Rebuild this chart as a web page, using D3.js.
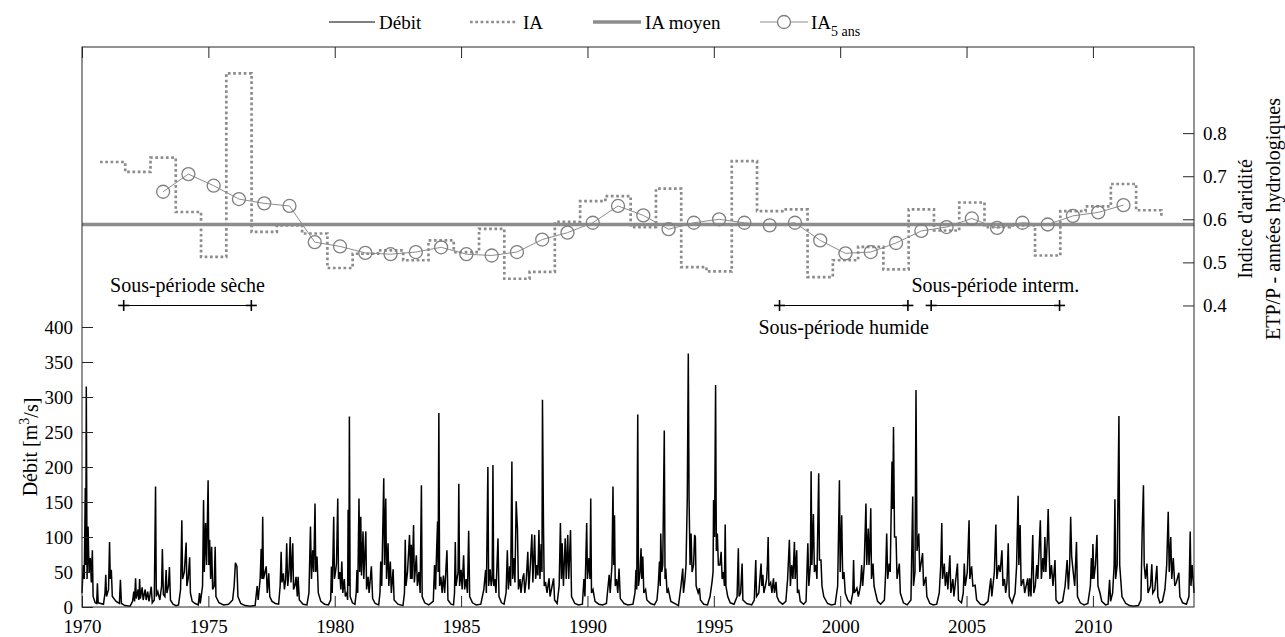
<!DOCTYPE html>
<html><head><meta charset="utf-8">
<script src="https://cdn.jsdelivr.net/npm/d3@7"></script>
<style>
body{margin:0;background:#fff}
svg{display:block}
text{font-family:"Liberation Serif","Times New Roman",serif;fill:#000}
</style>
</head><body>
<svg id="chart" width="1285" height="637"></svg>
<script>
// ---------------- DATA ----------------
const hydroYears = d3.range(1970, 2013); // hydrological years 1970-71 ... 2012-13
const iaValues = [0.733,0.710,0.743,0.617,0.513,0.939,0.571,0.586,0.567,0.487,0.520,0.528,0.505,0.551,0.524,0.578,0.462,0.478,0.594,0.642,0.654,0.582,0.671,0.489,0.479,0.735,0.619,0.623,0.466,0.505,0.536,0.484,0.623,0.574,0.639,0.582,0.586,0.516,0.619,0.630,0.682,0.621,0.603];
const iaMean = 0.588;
const ia5Years = d3.range(1972, 2011);
const ia5Values = [0.664,0.705,0.678,0.647,0.637,0.631,0.547,0.537,0.522,0.519,0.524,0.535,0.519,0.516,0.524,0.553,0.569,0.592,0.631,0.609,0.577,0.592,0.600,0.592,0.586,0.592,0.551,0.521,0.524,0.545,0.573,0.582,0.602,0.580,0.592,0.588,0.608,0.616,0.633];
const xTicks = [1970,1975,1980,1985,1990,1995,2000,2005,2010];
const debitTicks = [0,50,100,150,200,250,300,350,400];
const iaTicks = [0.4,0.5,0.6,0.7,0.8];
const subPeriodLabels = ["Sous-période sèche","Sous-période humide","Sous-période interm."];
const subPeriodStart = [1971.65,1997.6,2003.6];
const subPeriodEnd = [1976.7,2002.68,2008.68];
const legendLabels = ["Débit","IA","IA moyen","IA"];

// daily discharge (m3/s), digitised vertices [decimal year, value]
const debit1970s = [[1970.00,20],[1970.05,60],[1970.09,40],[1970.13,170],[1970.15,60],[1970.17,315],[1970.2,40],[1970.24,115],[1970.28,50],[1970.33,70],[1970.37,35],[1970.41,81],[1970.44,15],[1970.52,6],[1970.58,5],[1970.61,34],[1970.64,6],[1970.85,4],[1970.91,20],[1970.94,46],[1970.97,15],[1971.05,25],[1971.09,93],[1971.12,40],[1971.16,53],[1971.2,15],[1971.35,8],[1971.48,5],[1971.52,39],[1971.56,5],[1971.7,2],[1971.9,1],[1972.0,8],[1972.05,22],[1972.08,8],[1972.12,41],[1972.15,12],[1972.22,25],[1972.25,10],[1972.28,40],[1972.31,12],[1972.38,28],[1972.42,10],[1972.5,25],[1972.54,10],[1972.6,22],[1972.65,8],[1972.74,29],[1972.78,6],[1972.86,10],[1972.91,172],[1972.94,15],[1973.0,22],[1973.08,10],[1973.15,30],[1973.18,83],[1973.22,18],[1973.28,15],[1973.33,53],[1973.36,20],[1973.42,30],[1973.46,57],[1973.5,10],[1973.6,4],[1973.72,2],[1973.82,3],[1973.9,25],[1973.95,124],[1973.98,40],[1974.05,50],[1974.12,92],[1974.15,30],[1974.2,40],[1974.26,71],[1974.29,20],[1974.36,8],[1974.48,5],[1974.6,3],[1974.65,20],[1974.68,5],[1974.77,30],[1974.81,153],[1974.84,50],[1974.89,120],[1974.93,60],[1974.99,181],[1975.02,60],[1975.05,96],[1975.09,40],[1975.13,86],[1975.17,25],[1975.23,30],[1975.27,86],[1975.3,15],[1975.42,6],[1975.6,3],[1975.8,4],[1975.96,10],[1976.02,30],[1976.07,63],[1976.13,58],[1976.17,15],[1976.28,5],[1976.45,2],[1976.65,1],[1976.85,2],[1976.93,30],[1976.97,10],[1977.05,40],[1977.09,83],[1977.12,40],[1977.15,129],[1977.18,40],[1977.29,58],[1977.33,20],[1977.39,48],[1977.43,15],[1977.52,8],[1977.65,5],[1977.78,4],[1977.84,30],[1977.88,79],[1977.91,35],[1977.97,48],[1978.01,25],[1978.06,40],[1978.1,91],[1978.14,30],[1978.19,50],[1978.24,100],[1978.27,35],[1978.34,91],[1978.37,25],[1978.42,30],[1978.47,43],[1978.52,15],[1978.55,43],[1978.6,10],[1978.75,4],[1978.9,3],[1978.98,20],[1979.04,115],[1979.08,40],[1979.13,81],[1979.17,50],[1979.22,148],[1979.25,50],[1979.3,72],[1979.35,20],[1979.45,8],[1979.6,4],[1979.75,3],[1979.84,10],[1979.87,58],[1979.9,20],[1979.96,129],[1979.99,40]];
const debit1980s = [[1980.03,50],[1980.07,62],[1980.12,155],[1980.15,40],[1980.2,50],[1980.24,25],[1980.28,65],[1980.32,20],[1980.38,40],[1980.42,15],[1980.48,20],[1980.51,10],[1980.53,139],[1980.56,30],[1980.58,272],[1980.61,15],[1980.7,6],[1980.8,4],[1980.85,20],[1980.88,53],[1980.91,20],[1980.96,155],[1980.99,50],[1981.03,129],[1981.06,45],[1981.12,108],[1981.15,40],[1981.23,108],[1981.26,25],[1981.32,43],[1981.36,20],[1981.45,58],[1981.5,12],[1981.6,5],[1981.74,3],[1981.79,20],[1981.82,65],[1981.86,30],[1981.94,184],[1981.97,60],[1982.02,155],[1982.05,40],[1982.11,91],[1982.14,30],[1982.2,65],[1982.24,20],[1982.31,54],[1982.35,10],[1982.5,4],[1982.7,2],[1982.76,20],[1982.79,96],[1982.82,30],[1982.88,50],[1982.96,103],[1983.0,40],[1983.03,89],[1983.06,40],[1983.12,117],[1983.15,35],[1983.23,74],[1983.27,30],[1983.33,50],[1983.38,20],[1983.43,174],[1983.46,15],[1983.56,6],[1983.72,3],[1983.9,8],[1983.95,60],[1983.99,25],[1984.03,79],[1984.07,122],[1984.09,50],[1984.12,277],[1984.15,30],[1984.2,43],[1984.25,20],[1984.3,45],[1984.35,20],[1984.44,81],[1984.48,10],[1984.6,4],[1984.7,3],[1984.74,20],[1984.77,93],[1984.8,30],[1984.88,50],[1984.91,176],[1984.94,30],[1985.0,53],[1985.04,25],[1985.1,74],[1985.14,25],[1985.2,40],[1985.25,20],[1985.3,109],[1985.34,15],[1985.45,6],[1985.6,3],[1985.78,4],[1985.9,25],[1985.97,53],[1986.0,20],[1986.06,200],[1986.09,30],[1986.15,54],[1986.19,30],[1986.23,40],[1986.26,203],[1986.29,30],[1986.34,40],[1986.38,20],[1986.46,98],[1986.5,15],[1986.6,6],[1986.7,4],[1986.78,20],[1986.83,81],[1986.87,25],[1986.92,58],[1986.96,30],[1987.01,208],[1987.04,40],[1987.09,70],[1987.13,35],[1987.18,151],[1987.23,111],[1987.27,25],[1987.33,40],[1987.37,20],[1987.43,40],[1987.48,48],[1987.52,20],[1987.58,40],[1987.64,79],[1987.68,25],[1987.74,60],[1987.8,104],[1987.84,35],[1987.91,103],[1987.95,40],[1988.0,60],[1988.04,45],[1988.08,110],[1988.12,40],[1988.17,90],[1988.2,50],[1988.22,296],[1988.26,117],[1988.29,30],[1988.34,36],[1988.4,20],[1988.48,41],[1988.52,15],[1988.66,41],[1988.7,10],[1988.8,5],[1988.88,30],[1988.93,120],[1988.97,40],[1989.0,91],[1989.05,30],[1989.12,98],[1989.16,40],[1989.22,103],[1989.26,40],[1989.33,110],[1989.37,15],[1989.5,5],[1989.65,3],[1989.8,4],[1989.86,40],[1989.9,15],[1989.97,120]];
const debit1990s = [[1990.0,40],[1990.06,70],[1990.1,40],[1990.13,155],[1990.16,20],[1990.22,25],[1990.3,8],[1990.45,4],[1990.6,3],[1990.75,5],[1990.86,46],[1990.9,20],[1990.97,60],[1991.01,172],[1991.04,60],[1991.07,131],[1991.1,30],[1991.15,40],[1991.2,20],[1991.25,55],[1991.3,12],[1991.45,5],[1991.6,3],[1991.8,4],[1991.88,20],[1991.92,53],[1991.95,25],[1991.99,275],[1992.02,30],[1992.08,50],[1992.12,84],[1992.15,40],[1992.19,72],[1992.23,20],[1992.3,25],[1992.35,10],[1992.5,5],[1992.65,3],[1992.75,10],[1992.8,30],[1992.85,65],[1992.88,30],[1992.9,105],[1992.94,50],[1992.98,60],[1993.04,252],[1993.07,40],[1993.1,55],[1993.15,20],[1993.2,25],[1993.3,8],[1993.5,4],[1993.6,2],[1993.7,30],[1993.77,55],[1993.8,20],[1993.86,40],[1993.9,60],[1993.95,155],[1993.99,362],[1994.02,155],[1994.06,60],[1994.1,105],[1994.14,50],[1994.2,60],[1994.24,103],[1994.27,100],[1994.3,30],[1994.38,20],[1994.43,27],[1994.47,10],[1994.6,4],[1994.75,3],[1994.85,15],[1994.93,36],[1994.97,50],[1994.99,153],[1995.03,100],[1995.07,317],[1995.1,80],[1995.14,105],[1995.18,60],[1995.24,60],[1995.29,79],[1995.33,40],[1995.38,50],[1995.42,30],[1995.45,118],[1995.48,30],[1995.55,15],[1995.65,6],[1995.8,4],[1995.92,15],[1995.97,84],[1996.0,15],[1996.06,20],[1996.12,62],[1996.15,10],[1996.3,5],[1996.5,3],[1996.6,10],[1996.66,67],[1996.69,15],[1996.78,20],[1996.87,62],[1996.9,30],[1996.94,46],[1996.98,20],[1997.04,30],[1997.09,40],[1997.12,60],[1997.15,100],[1997.18,30],[1997.25,35],[1997.3,20],[1997.36,41],[1997.4,20],[1997.46,36],[1997.5,15],[1997.58,8],[1997.72,4],[1997.85,8],[1997.92,40],[1997.99,96],[1998.03,30],[1998.08,60],[1998.13,40],[1998.19,93],[1998.22,40],[1998.28,81],[1998.31,20],[1998.36,25],[1998.42,8],[1998.55,4],[1998.65,8],[1998.72,91],[1998.76,30],[1998.82,60],[1998.85,194],[1998.88,60],[1998.94,133],[1998.98,50],[1999.04,60],[1999.08,40],[1999.15,191],[1999.18,67],[1999.24,67],[1999.28,30],[1999.35,15],[1999.5,5],[1999.65,3],[1999.8,4],[1999.9,30]];
const debit2000s = [[1999.97,181],[2000.0,50],[2000.06,131],[2000.1,40],[2000.15,50],[2000.2,20],[2000.3,10],[2000.42,5],[2000.5,20],[2000.53,67],[2000.56,20],[2000.66,27],[2000.72,15],[2000.8,30],[2000.85,60],[2000.89,30],[2000.95,60],[2001.02,148],[2001.05,60],[2001.11,112],[2001.14,60],[2001.17,80],[2001.21,141],[2001.24,40],[2001.3,62],[2001.34,30],[2001.4,20],[2001.48,8],[2001.6,4],[2001.75,10],[2001.8,50],[2001.84,105],[2001.88,40],[2001.94,62],[2001.98,50],[2002.05,208],[2002.08,140],[2002.11,257],[2002.15,100],[2002.21,100],[2002.25,40],[2002.34,62],[2002.38,20],[2002.5,6],[2002.65,3],[2002.8,10],[2002.87,158],[2002.9,30],[2002.96,50],[2003.0,310],[2003.04,80],[2003.11,105],[2003.15,50],[2003.26,77],[2003.3,30],[2003.39,43],[2003.43,15],[2003.55,5],[2003.68,3],[2003.82,4],[2003.92,20],[2003.98,60],[2004.02,120],[2004.05,40],[2004.12,62],[2004.16,30],[2004.22,50],[2004.26,25],[2004.34,74],[2004.38,20],[2004.46,40],[2004.5,15],[2004.64,62],[2004.68,10],[2004.8,6],[2004.87,20],[2004.91,62],[2004.95,30],[2005.03,50],[2005.1,124],[2005.13,40],[2005.2,58],[2005.25,30],[2005.34,31],[2005.4,10],[2005.55,4],[2005.7,3],[2005.85,8],[2005.96,41],[2006.0,15],[2006.1,50],[2006.16,118],[2006.2,40],[2006.27,60],[2006.33,50],[2006.4,81],[2006.44,30],[2006.5,40],[2006.55,20],[2006.6,35],[2006.65,91],[2006.69,15],[2006.8,6],[2006.92,20],[2006.98,58],[2007.04,159],[2007.07,60],[2007.12,117],[2007.16,30],[2007.25,40],[2007.3,20],[2007.42,41],[2007.46,15],[2007.5,41],[2007.55,15],[2007.62,103],[2007.66,20],[2007.72,30],[2007.78,60],[2007.82,40],[2007.92,124],[2007.96,40],[2008.02,70],[2008.06,50],[2008.1,100],[2008.14,50],[2008.2,100],[2008.23,140],[2008.26,91],[2008.3,40],[2008.36,60],[2008.42,30],[2008.5,67],[2008.54,10],[2008.65,5],[2008.8,8],[2008.9,30],[2008.98,67],[2009.03,25],[2009.08,60],[2009.12,129],[2009.16,72],[2009.22,50],[2009.28,30],[2009.35,93],[2009.39,15],[2009.5,6],[2009.65,3],[2009.8,5],[2009.9,30],[2009.94,70],[2009.97,40]];
const debit2010s = [[2010.0,90],[2010.04,40],[2010.1,60],[2010.16,103],[2010.2,30],[2010.28,20],[2010.35,8],[2010.5,3],[2010.6,4],[2010.66,39],[2010.7,8],[2010.78,20],[2010.84,60],[2010.87,154],[2010.9,40],[2010.96,60],[2011.03,273],[2011.06,60],[2011.1,40],[2011.15,15],[2011.3,5],[2011.45,2],[2011.6,1],[2011.8,2],[2011.9,10],[2011.95,110],[2012.0,174],[2012.03,60],[2012.08,40],[2012.14,62],[2012.18,20],[2012.28,30],[2012.33,61],[2012.37,20],[2012.45,25],[2012.53,59],[2012.57,15],[2012.65,6],[2012.75,8],[2012.85,25],[2012.92,60],[2012.98,136],[2013.02,50],[2013.08,100],[2013.12,40],[2013.18,70],[2013.24,30],[2013.3,35],[2013.4,49],[2013.44,15],[2013.55,6],[2013.7,4],[2013.8,15],[2013.85,108],[2013.88,30],[2013.93,60],[2014.0,20]];

// ---------------- LAYOUT ----------------
const HYDRO_OFFSET = 0.71; // hydrological year starts ~September
const M = {left: 82, right: 1194, top: 47, bottom: 607};
const svg = d3.select("#chart");
svg.append("rect").attr("width",1285).attr("height",637).attr("fill","#fff");

const x = d3.scaleLinear().domain([1970, 2014]).range([M.left, M.right]);
const yL = d3.scaleLinear().domain([0, 800]).range([M.bottom, M.top]);
const yR = d3.scaleLinear().domain([-0.3, 1.0]).range([M.bottom, M.top]);

const axisColor = "#262626";
const FS = 19;

// Débit
const debit = d3.sort([].concat(debit1970s, debit1980s, debit1990s, debit2000s, debit2010s), d => d[0]);
svg.append("path").datum(debit)
  .attr("fill","none").attr("stroke","#000").attr("stroke-width",1.5).attr("stroke-linejoin","miter")
  .attr("d", d3.line().x(d => x(d[0])).y(d => yL(d[1])));

// IA moyen
svg.append("line").attr("x1",M.left).attr("x2",M.right)
  .attr("y1",yR(iaMean)).attr("y2",yR(iaMean))
  .attr("stroke","#8c8c8c").attr("stroke-width",3.5);

// IA stairs
const iaPts = hydroYears.map((yr,i) => [yr + HYDRO_OFFSET, iaValues[i]]);
svg.append("path").datum(iaPts)
  .attr("fill","none").attr("stroke","#8c8c8c").attr("stroke-width",2.7)
  .attr("stroke-dasharray","2.7,2.6")
  .attr("d", d3.line().curve(d3.curveStepAfter).x(d => x(d[0])).y(d => yR(d[1])));

// IA 5 ans
const ia5Pts = ia5Years.map((yr,i) => [yr + HYDRO_OFFSET + 0.5, ia5Values[i]]);
svg.append("path").datum(ia5Pts)
  .attr("fill","none").attr("stroke","#8c8c8c").attr("stroke-width",1)
  .attr("d", d3.line().x(d => x(d[0])).y(d => yR(d[1])));
svg.append("g").selectAll("circle").data(ia5Pts).join("circle")
  .attr("cx", d => x(d[0])).attr("cy", d => yR(d[1])).attr("r",6.5)
  .attr("fill","none").attr("stroke","#7f7f7f").attr("stroke-width",1.3);

// Sub-periods
const spG = svg.append("g");
subPeriodLabels.forEach((lab,i) => {
  const yb = yR(0.4);
  const x1 = x(subPeriodStart[i]), x2 = x(subPeriodEnd[i]);
  spG.append("line").attr("x1",x1).attr("x2",x2).attr("y1",yb).attr("y2",yb).attr("stroke","#000").attr("stroke-width",1.1);
  [x1,x2].forEach(xx => {
    spG.append("line").attr("x1",xx-5.5).attr("x2",xx+5.5).attr("y1",yb).attr("y2",yb).attr("stroke","#000").attr("stroke-width",1.6);
    spG.append("line").attr("x1",xx).attr("x2",xx).attr("y1",yb-5.5).attr("y2",yb+5.5).attr("stroke","#000").attr("stroke-width",1.6);
  });
  const below = (i === 1);
  spG.append("text").attr("x",(x1+x2)/2).attr("y", below ? yb+22 : yb-20)
    .attr("dy","0.35em").attr("text-anchor","middle").attr("font-size",20).text(lab);
});

// Frame
svg.append("rect").attr("x",M.left).attr("y",M.top).attr("width",M.right-M.left).attr("height",M.bottom-M.top)
  .attr("fill","none").attr("stroke",axisColor).attr("stroke-width",1);

function styleAxis(g){
  g.attr("font-family",null);
  g.select(".domain").remove();
  g.selectAll(".tick line").attr("stroke",axisColor);
  g.selectAll(".tick text").attr("font-size",FS).attr("fill","#000");
}
svg.append("g").attr("transform",`translate(0,${M.bottom})`)
  .call(d3.axisBottom(x).tickValues(xTicks).tickFormat(d3.format("d")).tickSizeInner(-11).tickSizeOuter(0).tickPadding(13))
  .call(styleAxis);
svg.append("g").attr("transform",`translate(0,${M.top})`)
  .call(d3.axisTop(x).tickValues(xTicks).tickFormat("").tickSizeInner(-11).tickSizeOuter(0))
  .call(styleAxis);
svg.append("g").attr("transform",`translate(${M.left},0)`)
  .call(d3.axisLeft(yL).tickValues(debitTicks).tickFormat(d3.format("d")).tickSizeInner(-11).tickSizeOuter(0).tickPadding(9))
  .call(styleAxis);
svg.append("g").attr("transform",`translate(${M.right},0)`)
  .call(d3.axisRight(yR).tickValues(iaTicks).tickFormat(d3.format(".1f")).tickSizeInner(-11).tickSizeOuter(0).tickPadding(9))
  .call(styleAxis);

// Axis titles
const lt = svg.append("text").attr("transform",`translate(30,447) rotate(-90)`)
  .attr("text-anchor","middle").attr("dy","0.35em").attr("font-size",20);
lt.append("tspan").text("Débit [m");
lt.append("tspan").attr("font-size",14).attr("dy","-0.6em").text("3");
lt.append("tspan").attr("dy","0.45em").text("/s]");
svg.append("text").attr("transform",`translate(1245,219) rotate(-90)`)
  .attr("text-anchor","middle").attr("dy","0.35em").attr("font-size",20).text("Indice d'aridité");
svg.append("text").attr("transform",`translate(1273,219) rotate(-90)`)
  .attr("text-anchor","middle").attr("dy","0.35em").attr("font-size",20).text("ETP/P - années hydrologiques");

// Legend
const LY = 22;
const lg = svg.append("g");
lg.append("line").attr("x1",329).attr("x2",375).attr("y1",LY).attr("y2",LY).attr("stroke","#000").attr("stroke-width",1);
lg.append("text").attr("x",379).attr("y",LY).attr("dy","0.35em").attr("font-size",FS).text(legendLabels[0]);
lg.append("line").attr("x1",470).attr("x2",517).attr("y1",LY).attr("y2",LY).attr("stroke","#8c8c8c").attr("stroke-width",2.7).attr("stroke-dasharray","2.7,2.6");
lg.append("text").attr("x",523).attr("y",LY).attr("dy","0.35em").attr("font-size",FS).text(legendLabels[1]);
lg.append("line").attr("x1",593).attr("x2",641).attr("y1",LY).attr("y2",LY).attr("stroke","#8c8c8c").attr("stroke-width",3.5);
lg.append("text").attr("x",645).attr("y",LY).attr("dy","0.35em").attr("font-size",FS).text(legendLabels[2]);
lg.append("line").attr("x1",760).attr("x2",808).attr("y1",LY).attr("y2",LY).attr("stroke","#8c8c8c").attr("stroke-width",1);
lg.append("circle").attr("cx",784).attr("cy",LY).attr("r",6.5).attr("fill","#fff").attr("stroke","#7f7f7f").attr("stroke-width",1.3);
const l5 = lg.append("text").attr("x",811).attr("y",LY).attr("dy","0.35em").attr("font-size",FS);
l5.append("tspan").text(legendLabels[3]);
l5.append("tspan").attr("font-size",14).attr("dy","0.5em").text("5 ans");
</script>
</body></html>
